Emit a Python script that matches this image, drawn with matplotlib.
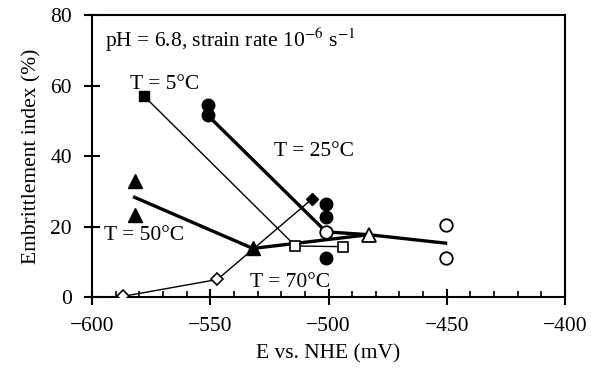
import matplotlib
matplotlib.use("Agg")
import matplotlib.pyplot as plt
from matplotlib.ticker import MultipleLocator

plt.rcParams['font.family'] = ['Liberation Serif', 'DejaVu Serif']
plt.rcParams['mathtext.fontset'] = 'stix'

# T = 5 C
t5_line_x = [-578, -514, -494]
t5_line_y = [57, 14.5, 14.3]
t5_fill_x = [-578]
t5_fill_y = [57]
t5_open_x = [-514, -494]
t5_open_y = [14.5, 14.3]

# T = 25 C
t25_line_x = [-551, -501, -483]
t25_line_y = [51.5, 18.5, 17.7]
t25_fill_x = [-551, -551, -501, -501, -501]
t25_fill_y = [54.5, 51.5, 26.3, 22.7, 11.2]
t25_open_x = [-501, -450.5, -450.5]
t25_open_y = [18.5, 20.4, 11.0]

# T = 50 C
t50_line_x = [-582, -532, -483, -450.5]
t50_line_y = [28.3, 13.8, 17.7, 15.3]
t50_fill_x = [-582, -582, -532]
t50_fill_y = [33.0, 23.3, 13.8]
t50_open_x = [-483]
t50_open_y = [17.7]

# T = 70 C
t70_line_x = [-587, -547, -507]
t70_line_y = [0.2, 5.0, 27.8]
t70_open_x = [-587, -547]
t70_open_y = [0.2, 5.0]
t70_fill_x = [-507]
t70_fill_y = [27.8]

fig = plt.figure(figsize=(5.91, 3.70), dpi=100)
ax = fig.add_axes([0.1557, 0.197, 0.8003, 0.7625])

thin = 1.0
thick = 2.4

ax.plot(t5_line_x, t5_line_y, color='black', lw=thin, zorder=2)
ax.plot(t70_line_x, t70_line_y, color='black', lw=thin, zorder=2)
ax.plot(t25_line_x, t25_line_y, color='black', lw=thick, zorder=2)
ax.plot(t50_line_x, t50_line_y, color='black', lw=thick, zorder=2)

ax.plot(t5_fill_x, t5_fill_y, 's', color='black', ms=6.5, zorder=3)
ax.plot(t5_open_x, t5_open_y, 's', mfc='white', mec='black', mew=1.2, ms=6.5, zorder=3)
ax.plot(t25_fill_x, t25_fill_y, 'o', color='black', ms=9, zorder=3)
ax.plot(t25_open_x, t25_open_y, 'o', mfc='white', mec='black', mew=1.3, ms=9, zorder=4)
ax.plot(t50_fill_x, t50_fill_y, '^', color='black', ms=9.5, zorder=3)
ax.plot(t50_open_x, t50_open_y, '^', mfc='white', mec='black', mew=1.3, ms=9.5, zorder=4)
ax.plot(t70_open_x, t70_open_y, 'D', mfc='white', mec='black', mew=1.2, ms=6.5, zorder=3)
ax.plot(t70_fill_x, t70_fill_y, 'D', color='black', ms=6.5, zorder=3)

fs = 15.5
ax.text(-594.5, 72.8, r'pH = 6.8, strain rate 10$^{-6}$ s$^{-1}$', fontsize=fs, va='center')
ax.text(-584, 60.3, 'T = 5°C', fontsize=fs, va='center')
ax.text(-523, 41.3, 'T = 25°C', fontsize=fs, va='center')
ax.text(-595, 17.6, 'T = 50°C', fontsize=fs, va='center')
ax.text(-533, 4.2, 'T = 70°C', fontsize=fs, va='center')

ax.set_xlim(-600, -400)
ax.set_ylim(0, 80)
ax.xaxis.set_minor_locator(MultipleLocator(10))
ax.yaxis.set_major_locator(MultipleLocator(20))
ax.set_xticks([-600, -550, -500, -450, -400])
ax.set_xticklabels(['\u2212600', '\u2212550', '\u2212500', '\u2212450', '\u2212400'])
ax.tick_params(axis='both', which='major', direction='inout', length=11, width=1.5,
               labelsize=fs, pad=9)
ax.tick_params(axis='x', which='minor', direction='in', length=4, width=1.2)
for s in ax.spines.values():
    s.set_linewidth(1.5)

ax.set_xlabel('E vs. NHE (mV)', fontsize=fs, labelpad=6)
ax.set_ylabel('Embrittlement index (%)', fontsize=fs, labelpad=6)

fig.savefig('out.png', dpi=100)
